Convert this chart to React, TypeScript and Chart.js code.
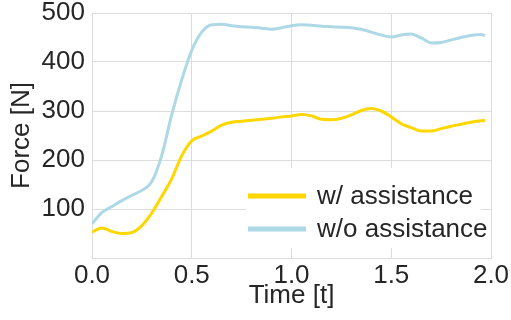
import React, { useEffect, useRef } from "react";
import { Chart, registerables } from "chart.js";

Chart.register(...registerables);

const times = [
  0, 0.05, 0.1, 0.15, 0.2, 0.25, 0.3, 0.35, 0.4, 0.45, 0.5, 0.55, 0.6, 0.65,
  0.7, 0.75, 0.8, 0.85, 0.9, 0.95, 1.0, 1.05, 1.1, 1.15, 1.2, 1.25, 1.3, 1.35,
  1.4, 1.45, 1.5, 1.55, 1.6, 1.65, 1.7, 1.75, 1.8, 1.85, 1.9, 1.95, 1.97,
];

const withAssistance = [
  53, 61, 54, 50, 52, 66, 92, 126, 162, 209, 239, 249, 259, 271, 277, 279,
  281, 283, 285, 288, 290, 293, 290, 283, 282, 285, 292, 301, 305, 300, 288,
  274, 266, 259, 259, 264, 269, 273, 277, 280, 281,
];

const withoutAssistance = [
  70, 93, 105, 117, 128, 138, 156, 210, 293, 364, 424, 461, 476, 477, 474,
  472, 471, 469, 467, 470, 474, 476, 475, 473, 472, 471, 470, 467, 461, 455,
  451, 455, 457, 449, 439, 440, 445, 450, 454, 456, 454,
];

const seriesLabels = ["w/ assistance", "w/o assistance"];
const seriesColors = ["#FFD700", "#ADD8E6"];
const xTicks = [0, 0.5, 1.0, 1.5, 2.0];
const yTicks = [100, 200, 300, 400, 500];

const FONT = "'Liberation Sans', Arial, sans-serif";
const TEXT = "#262626";
const GRID = "#dcdcdc";

const legendPlugin = {
  id: "boxLegend",
  afterDraw(chart: any) {
    const ctx = chart.ctx;
    ctx.save();
    ctx.fillStyle = "#ffffff";
    ctx.fillRect(246, 168, 235, 80);
    const rows = [196, 229];
    chart.data.datasets.forEach((ds: any, i: number) => {
      const y = rows[i];
      ctx.strokeStyle = ds.borderColor;
      ctx.lineWidth = 5;
      ctx.beginPath();
      ctx.moveTo(248, y);
      ctx.lineTo(306, y);
      ctx.stroke();
      ctx.fillStyle = TEXT;
      ctx.font = `26px ${FONT}`;
      ctx.textBaseline = "middle";
      ctx.textAlign = "left";
      ctx.fillText(ds.label, 317, y + 1);
    });
    ctx.restore();
  },
};

export default function App() {
  const ref = useRef<HTMLCanvasElement>(null);
  useEffect(() => {
    if (!ref.current) return;
    const chart = new Chart(ref.current, {
      type: "line",
      data: {
        datasets: [
          {
            label: seriesLabels[0],
            data: times.map((t, i) => ({ x: t, y: withAssistance[i] })),
            borderColor: seriesColors[0],
            backgroundColor: seriesColors[0],
            borderWidth: 3,
            pointRadius: 0,
            cubicInterpolationMode: "monotone",
          },
          {
            label: seriesLabels[1],
            data: times.map((t, i) => ({ x: t, y: withoutAssistance[i] })),
            borderColor: seriesColors[1],
            backgroundColor: seriesColors[1],
            borderWidth: 3,
            pointRadius: 0,
            cubicInterpolationMode: "monotone",
          },
        ],
      },
      plugins: [legendPlugin],
      options: {
        animation: false,
        responsive: false,
        layout: { padding: { top: 13, right: 20, left: 0, bottom: 0 } },
        plugins: { legend: { display: false }, tooltip: { enabled: false } },
        scales: {
          x: {
            type: "linear",
            min: 0,
            max: 2,
            afterBuildTicks: (s: any) => {
              s.ticks = xTicks.map((v) => ({ value: v }));
            },
            afterFit: (s: any) => {
              s.height = 62;
              s.paddingLeft = 0;
              s.paddingRight = 0;
            },
            ticks: {
              callback: (v: any) => Number(v).toFixed(1),
              font: { family: FONT, size: 26 },
              color: TEXT,
              padding: 2,
              maxRotation: 0,
            },
            grid: { color: GRID, drawTicks: false, lineWidth: 1 },
            border: { color: GRID, width: 1 },
            title: {
              display: true,
              text: "Time [t]",
              font: { family: FONT, size: 26 },
              color: TEXT,
              padding: { top: 0, bottom: 9 },
            },
          },
          y: {
            type: "linear",
            min: 0,
            max: 500,
            afterBuildTicks: (s: any) => {
              s.ticks = yTicks.map((v) => ({ value: v }));
            },
            afterFit: (s: any) => {
              s.width = 92;
              s.paddingTop = 0;
              s.paddingBottom = 0;
            },
            ticks: {
              font: { family: FONT, size: 26 },
              color: TEXT,
              padding: 7,
            },
            grid: { color: GRID, drawTicks: false, lineWidth: 1 },
            border: { color: GRID, width: 1 },
            title: {
              display: true,
              text: "Force [N]",
              font: { family: FONT, size: 26 },
              color: TEXT,
              padding: { top: 6, bottom: 0 },
            },
          },
        },
      },
    });
    return () => chart.destroy();
  }, []);
  return (
    <div style={{ position: "absolute", left: 0, top: 0, width: 511, height: 320, background: "#fff" }}>
      <canvas ref={ref} width={511} height={320} />
    </div>
  );
}
